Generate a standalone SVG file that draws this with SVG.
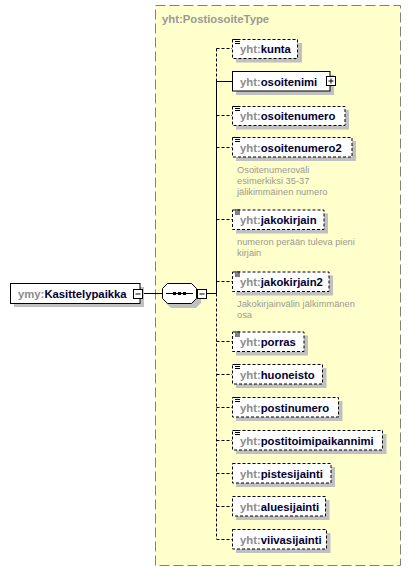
<svg xmlns="http://www.w3.org/2000/svg" width="411" height="571" viewBox="0 0 411 571">
<style>
.t{font-family:"Liberation Sans",Arial,sans-serif;font-size:11.3px;font-weight:bold;fill:#000033}
.p{fill:#8c8c8c}
.d{font-family:"Liberation Sans",Arial,sans-serif;font-size:9.3px;fill:#9a9a90}
.box{fill:#fff;stroke:#000;stroke-width:1}
.opt{stroke-dasharray:3,2}
.sh{fill:#c0c0c0}
.ln{stroke:#000;stroke-width:1;fill:none}
.ic{stroke:#000;stroke-width:1}
</style>
<rect x="155.5" y="5.5" width="245" height="560" fill="#FFFFCC" stroke="#808080" stroke-dasharray="10,4"/>
<text x="162" y="23" class="t" fill="#999" style="fill:#999">yht:PostiosoiteType</text>
<g id="connectors">
<line class="ln" x1="143" y1="293.5" x2="162" y2="293.5"/>
<line class="ln" x1="207" y1="293.5" x2="216.5" y2="293.5"/>
<line class="ln opt" x1="216.5" y1="48.5" x2="216.5" y2="81"/>
<line class="ln" x1="216.5" y1="81" x2="216.5" y2="293.5"/>
<line class="ln opt" x1="216.5" y1="293.5" x2="216.5" y2="539"/>
<line class="ln opt" x1="216.5" y1="48.5" x2="232" y2="48.5"/>
<line class="ln" x1="216.5" y1="81.5" x2="232" y2="81.5"/>
<line class="ln opt" x1="216.5" y1="115.5" x2="232" y2="115.5"/>
<line class="ln opt" x1="216.5" y1="147.5" x2="232" y2="147.5"/>
<line class="ln opt" x1="216.5" y1="219.5" x2="232" y2="219.5"/>
<line class="ln opt" x1="216.5" y1="281.5" x2="232" y2="281.5"/>
<line class="ln opt" x1="216.5" y1="341.5" x2="232" y2="341.5"/>
<line class="ln opt" x1="216.5" y1="374.5" x2="232" y2="374.5"/>
<line class="ln opt" x1="216.5" y1="407.5" x2="232" y2="407.5"/>
<line class="ln opt" x1="216.5" y1="440.5" x2="232" y2="440.5"/>
<line class="ln opt" x1="216.5" y1="473.5" x2="232" y2="473.5"/>
<line class="ln opt" x1="216.5" y1="506.5" x2="232" y2="506.5"/>
<line class="ln opt" x1="216.5" y1="539.5" x2="232" y2="539.5"/>
</g>
<g id="Kasittelypaikka">
<rect class="sh" x="14" y="287" width="130" height="20"/>
<rect class="box" x="10.5" y="283.5" width="129.5" height="20"/>
<text x="18" y="297.5" class="t"><tspan class="p">ymy:</tspan>Kasittelypaikka</text>
<rect class="box" x="133.5" y="289.5" width="9" height="9"/>
<line class="ic" x1="135.5" y1="294" x2="140.5" y2="294"/>
</g>
<g id="sequence">
<polygon class="sh" points="171,288 196,288 201,293 201,303 196,308 171,308 166,303 166,293"/>
<polygon class="box" points="167.5,283.5 191.5,283.5 196.5,288.5 196.5,298.5 191.5,303.5 167.5,303.5 162.5,298.5 162.5,288.5"/>
<line class="ic" x1="166" y1="293.5" x2="193" y2="293.5"/>
<rect x="173" y="292" width="3" height="3" fill="#000"/>
<rect x="178" y="292" width="3" height="3" fill="#000"/>
<rect x="183" y="292" width="3" height="3" fill="#000"/>
<rect class="box" x="197.5" y="289.5" width="9" height="9"/>
<line class="ic" x1="199.5" y1="294" x2="204.5" y2="294"/>
</g>
<g id="kunta">
<rect class="sh" x="236" y="43" width="66" height="19.5"/>
<rect class="box opt" x="232.5" y="39.5" width="65" height="19"/>
<path class="ic" d="M235 39.5h5M235 41.5h5M235 43.5h5"/>
<text x="240" y="53" class="t"><tspan class="p">yht:</tspan>kunta</text>
</g>
<g id="osoitenimi">
<rect class="sh" x="236" y="75" width="98" height="20"/>
<rect class="box" x="232.5" y="71.5" width="97.5" height="19.5"/>
<text x="240" y="85.5" class="t"><tspan class="p">yht:</tspan>osoitenimi</text>
<rect class="box" x="326.5" y="76.5" width="9" height="9"/>
<path class="ic" d="M328.5 81h5M331 78.5v5"/>
</g>
<g id="osoitenumero">
<rect class="sh" x="236" y="110" width="113" height="19.5"/>
<rect class="box opt" x="232.5" y="106.5" width="112.5" height="19"/>
<path class="ic" d="M235 106.5h5M235 108.5h5M235 110.5h5"/>
<text x="240" y="120" class="t"><tspan class="p">yht:</tspan>osoitenumero</text>
</g>
<g id="osoitenumero2">
<rect class="sh" x="236" y="141" width="120" height="20"/>
<rect class="box opt" x="232.5" y="137.5" width="119.5" height="19.5"/>
<path class="ic" d="M235 137.5h5M235 139.5h5M235 141.5h5"/>
<text x="240" y="151.5" class="t"><tspan class="p">yht:</tspan>osoitenumero2</text>
<text class="d" x="237" y="172.5">Osoitenumeroväli</text>
<text class="d" x="237" y="183.5">esimerkiksi 35-37</text>
<text class="d" x="237" y="194.5">jälikimmäinen numero</text>
</g>
<g id="jakokirjain">
<rect class="sh" x="236" y="213.5" width="92" height="20"/>
<rect class="box opt" x="232.5" y="210" width="91.5" height="19.5"/>
<path class="ic" d="M235 210h5M235 212h5M235 214h5"/>
<text x="240" y="224" class="t"><tspan class="p">yht:</tspan>jakokirjain</text>
<text class="d" x="237" y="245">numeron perään tuleva pieni</text>
<text class="d" x="237" y="256">kirjain</text>
</g>
<g id="jakokirjain2">
<rect class="sh" x="236" y="275.5" width="97" height="20"/>
<rect class="box opt" x="232.5" y="272" width="96.5" height="19.5"/>
<path class="ic" d="M235 272h5M235 274h5M235 276h5"/>
<text x="240" y="286" class="t"><tspan class="p">yht:</tspan>jakokirjain2</text>
<text class="d" x="237" y="306.5">Jakokirjainvälin jälkimmänen</text>
<text class="d" x="237" y="317.5">osa</text>
</g>
<g id="porras">
<rect class="sh" x="236" y="335.5" width="72" height="20"/>
<rect class="box opt" x="232.5" y="332" width="71.5" height="19.5"/>
<path class="ic" d="M235 332h5M235 334h5M235 336h5"/>
<text x="240" y="346" class="t"><tspan class="p">yht:</tspan>porras</text>
</g>
<g id="huoneisto">
<rect class="sh" x="236" y="368" width="90.5" height="20"/>
<rect class="box opt" x="232.5" y="364.5" width="90" height="19.5"/>
<path class="ic" d="M235 364.5h5M235 366.5h5M235 368.5h5"/>
<text x="240" y="378.5" class="t"><tspan class="p">yht:</tspan>huoneisto</text>
</g>
<g id="postinumero">
<rect class="sh" x="236" y="401" width="106.5" height="20"/>
<rect class="box opt" x="232.5" y="397.5" width="106" height="19.5"/>
<path class="ic" d="M235 397.5h5M235 399.5h5M235 401.5h5"/>
<text x="240" y="411.5" class="t"><tspan class="p">yht:</tspan>postinumero</text>
</g>
<g id="postitoimipaikannimi">
<rect class="sh" x="236" y="434" width="150.5" height="20"/>
<rect class="box opt" x="232.5" y="430.5" width="150" height="19.5"/>
<path class="ic" d="M235 430.5h5M235 432.5h5M235 434.5h5"/>
<text x="240" y="444.5" class="t"><tspan class="p">yht:</tspan>postitoimipaikannimi</text>
</g>
<g id="pistesijainti">
<rect class="sh" x="236" y="467" width="99" height="20"/>
<rect class="box opt" x="232.5" y="463.5" width="98.5" height="19.5"/>
<text x="240" y="477.5" class="t"><tspan class="p">yht:</tspan>pistesijainti</text>
</g>
<g id="aluesijainti">
<rect class="sh" x="236" y="500" width="93.5" height="20"/>
<rect class="box opt" x="232.5" y="496.5" width="93" height="19.5"/>
<text x="240" y="510.5" class="t"><tspan class="p">yht:</tspan>aluesijainti</text>
</g>
<g id="viivasijainti">
<rect class="sh" x="236" y="533" width="94.5" height="20"/>
<rect class="box opt" x="232.5" y="529.5" width="94" height="19.5"/>
<text x="240" y="543.5" class="t"><tspan class="p">yht:</tspan>viivasijainti</text>
</g>
</svg>
